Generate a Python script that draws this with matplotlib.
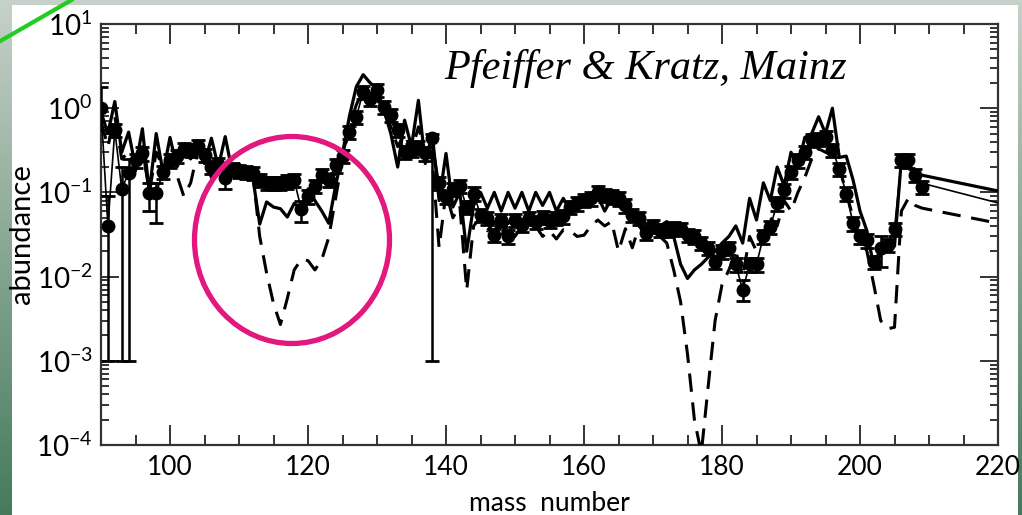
import numpy as np
import matplotlib.pyplot as plt
from matplotlib.patches import Ellipse, Rectangle
from matplotlib.ticker import MultipleLocator, LogLocator, NullFormatter

plt.rcParams['font.family'] = ['Lato', 'DejaVu Sans']
plt.rcParams['mathtext.fontset'] = 'custom'
plt.rcParams['mathtext.rm'] = 'Lato'
plt.rcParams['mathtext.it'] = 'Lato:italic'
plt.rcParams['mathtext.bf'] = 'Lato:bold'

# solar r-process abundances (filled circles), A = 90 ... 209
mass = list(range(90, 210))
solar = [
    1.0, 0.04, 0.55, 0.11, 0.17, 0.24, 0.29, 0.098, 0.098, 0.175,      # 90-99
    0.24, 0.27, 0.33, 0.32, 0.36, 0.28, 0.20, 0.22, 0.15, 0.19,        # 100-109
    0.18, 0.175, 0.17, 0.14, 0.13, 0.13, 0.13, 0.135, 0.14, 0.064,     # 110-119
    0.09, 0.12, 0.16, 0.14, 0.21, 0.27, 0.52, 0.79, 1.56, 1.3,         # 120-129
    1.65, 1.04, 0.83, 0.55, 0.30, 0.32, 0.35, 0.29, 0.44, 0.13,        # 130-139
    0.088, 0.11, 0.12, 0.067, 0.097, 0.054, 0.05, 0.031, 0.047, 0.03,  # 140-149
    0.047, 0.041, 0.05, 0.045, 0.051, 0.046, 0.05, 0.052, 0.067, 0.074,  # 150-159
    0.081, 0.085, 0.10, 0.093, 0.09, 0.085, 0.07, 0.054, 0.05, 0.033,  # 160-169
    0.04, 0.036, 0.036, 0.038, 0.037, 0.031, 0.03, 0.025, 0.022, 0.015,  # 170-179
    0.02, 0.022, 0.014, 0.0069, 0.014, 0.014, 0.030, 0.039, 0.074, 0.106,  # 180-189
    0.175, 0.24, 0.30, 0.42, 0.43, 0.45, 0.32, 0.19, 0.097, 0.043,     # 190-199
    0.030, 0.027, 0.015, 0.022, 0.024, 0.037, 0.245, 0.24, 0.16, 0.116,  # 200-209
]
solar_rel_err = 0.18
big_err_mass = [90, 91, 93, 94, 97, 98, 108, 119, 138, 183, 203]
big_err_lo = [0.55, 0.001, 0.001, 0.001, 0.06, 0.043, 0.11, 0.045, 0.001, 0.0052, 0.013]
big_err_hi = [1.8, 0.09, 0.2, 0.25, 0.13, 0.13, 0.2, 0.08, 0.5, 0.009, 0.03]

# thin line continuing past the last data point
tail_mass = [208, 220]
tail_vals = [0.135, 0.075]

# model calculations, A = 90 ... 209 and 220
model_mass = list(range(90, 210)) + [220]
model_solid = [
    0.9, 0.5, 1.2, 0.3, 0.52, 0.2, 0.57, 0.1, 0.5, 0.17,               # 90-99
    0.45, 0.2, 0.3, 0.25, 0.38, 0.22, 0.44, 0.2, 0.46, 0.18,           # 100-109
    0.22, 0.16, 0.15, 0.042, 0.077, 0.067, 0.064, 0.051, 0.074, 0.065,  # 110-119
    0.11, 0.08, 0.06, 0.043, 0.12, 0.29, 0.8, 1.8, 2.5, 2.0,           # 120-129
    1.7, 0.95, 0.5, 0.2, 0.72, 0.35, 1.24, 0.22, 0.5, 0.08,            # 130-139
    0.29, 0.067, 0.1, 0.02, 0.07, 0.1, 0.065, 0.1, 0.06, 0.1,          # 140-149
    0.065, 0.1, 0.06, 0.1, 0.07, 0.1, 0.06, 0.085, 0.06, 0.075,        # 150-159
    0.085, 0.07, 0.09, 0.06, 0.085, 0.07, 0.06, 0.045, 0.05, 0.042,    # 160-169
    0.045, 0.04, 0.045, 0.03, 0.014, 0.0095, 0.012, 0.014, 0.017, 0.02,  # 170-179
    0.025, 0.03, 0.04, 0.025, 0.085, 0.047, 0.13, 0.08, 0.2, 0.12,     # 180-189
    0.3, 0.2, 0.45, 0.5, 0.79, 0.5, 1.0, 0.26, 0.27, 0.14,             # 190-199
    0.06, 0.035, 0.013, 0.02, 0.023, 0.023, 0.25, 0.22, 0.17, 0.16,    # 200-209
    0.104,                                                             # 220
]
model_dashed = [
    0.7, 0.35, 0.8, 0.25, 0.3, 0.18, 0.35, 0.1, 0.3, 0.2,              # 90-99
    0.25, 0.16, 0.09, 0.13, 0.3, 0.25, 0.15, 0.2, 0.18, 0.2,           # 100-109
    0.16, 0.18, 0.17, 0.03, 0.011, 0.0048, 0.0027, 0.0055, 0.012, 0.016,  # 110-119
    0.0155, 0.012, 0.016, 0.029, 0.085, 0.25, 0.6, 1.1, 1.6, 1.5,      # 120-129
    1.3, 0.9, 0.6, 0.35, 0.5, 0.3, 0.6, 0.3, 0.25, 0.022,              # 130-139
    0.1, 0.05, 0.07, 0.0069, 0.04, 0.05, 0.035, 0.045, 0.03, 0.045,    # 140-149
    0.03, 0.04, 0.035, 0.04, 0.03, 0.035, 0.028, 0.036, 0.035, 0.03,   # 150-159
    0.031, 0.04, 0.047, 0.04, 0.045, 0.02, 0.037, 0.022, 0.04, 0.03,   # 160-169
    0.035, 0.03, 0.025, 0.012, 0.005, 0.0012, 0.0002, 0.00008, 0.0005, 0.003,  # 170-179
    0.008, 0.012, 0.02, 0.01, 0.03, 0.02, 0.03, 0.05, 0.04, 0.08,      # 180-189
    0.06, 0.1, 0.15, 0.25, 0.33, 0.3, 0.28, 0.2, 0.1, 0.05,            # 190-199
    0.03, 0.02, 0.008, 0.003, 0.0024, 0.0025, 0.06, 0.085, 0.07, 0.065,  # 200-209
    0.043,                                                             # 220
]

W, H = 1022, 515
fig = plt.figure(figsize=(W / 100, H / 100), dpi=100)

# slide background: green gradient with a white panel
bg = fig.add_axes([0, 0, 1, 1], zorder=-10)
bg.axis('off')
t = np.linspace(0, 1, 256)[:, None]
top_c = np.array([0.78, 0.82, 0.79])
bot_c = np.array([0.27, 0.48, 0.36])
grad = top_c * (1 - t[..., None]) + bot_c * t[..., None]
grad = np.repeat(grad, 2, axis=1)
bg.imshow(grad, extent=[0, 1, 0, 1], aspect='auto', transform=bg.transAxes)
bg.plot([0, 0.07], [0.92, 1.0], color='#22cc22', lw=3, transform=bg.transAxes)
bg.add_patch(Rectangle((12 / W, 0), (1018 - 12) / W, 1 - 5 / H,
                       facecolor='white', edgecolor='none', transform=bg.transAxes))
bg.set_xlim(0, 1)
bg.set_ylim(0, 1)

ax = fig.add_axes([101 / W, 1 - 445 / H, (998 - 101) / W, (445 - 24) / H])
ax.set_yscale('log')

sol = np.array(solar)
lo = sol * solar_rel_err
hi = sol * solar_rel_err
for m, l, h in zip(big_err_mass, big_err_lo, big_err_hi):
    i = mass.index(m)
    lo[i] = sol[i] - l
    hi[i] = h - sol[i]

ax.plot(model_mass, model_solid, color='black', lw=2.3, zorder=3)
ax.plot(model_mass, model_dashed, color='black', lw=2.2, dashes=(6, 3.5), zorder=3)
ax.errorbar(mass, solar, yerr=[lo, hi], fmt='-o', color='black', lw=1.2, ms=9,
            elinewidth=1.8, capsize=5, capthick=2, zorder=4)
ax.plot(tail_mass, tail_vals, color='black', lw=1.2, zorder=3)

ax.set_xlim(90, 220)
ax.set_ylim(1e-4, 10)
ax.xaxis.set_major_locator(MultipleLocator(20))
ax.xaxis.set_minor_locator(MultipleLocator(5))
ax.yaxis.set_major_locator(LogLocator(base=10, numticks=10))
ax.yaxis.set_minor_locator(LogLocator(base=10, subs=np.arange(2, 10), numticks=50))
ax.yaxis.set_minor_formatter(NullFormatter())
ax.tick_params(which='both', direction='in', top=True, right=True, color='#333333', width=1.4)
ax.tick_params(axis='x', which='major', length=14.5, labelsize=19, pad=7)
ax.tick_params(axis='x', which='minor', length=7.5)
ax.tick_params(axis='y', which='major', length=13, labelsize=20, pad=6)
ax.tick_params(axis='y', which='minor', length=6)
for s in ax.spines.values():
    s.set_linewidth(1.6)
    s.set_color('#333333')

ax.set_xlabel('mass  number', fontsize=19, labelpad=8)
ax.set_ylabel('abundance', fontsize=21, labelpad=1)

ax.text(0.383, 0.895, 'Pfeiffer & Kratz, Mainz', transform=ax.transAxes,
        family='Liberation Serif', style='italic', fontsize=30.5, va='center')

fig.add_artist(Ellipse((292 / W, 1 - 240 / H), 195 / W, 207 / H, transform=fig.transFigure,
                       fill=False, edgecolor='#e2187e', lw=3.8, zorder=5))

fig.savefig('out.png', dpi=100)
